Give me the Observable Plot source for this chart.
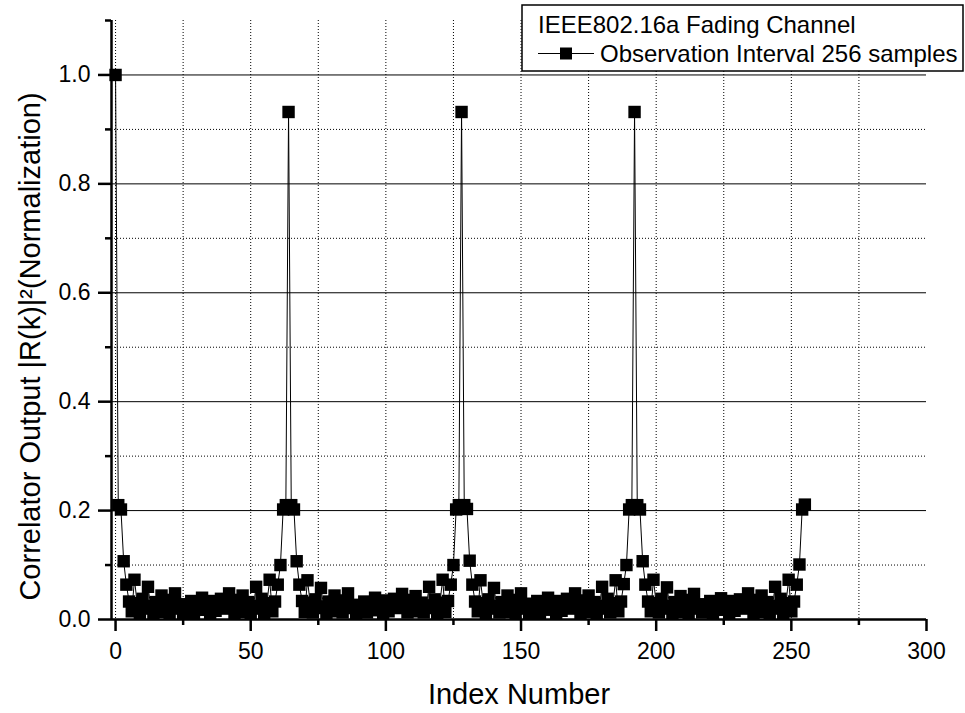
<!DOCTYPE html>
<html><head><meta charset="utf-8">
<script src="https://cdn.jsdelivr.net/npm/d3@7"></script>
<script src="https://cdn.jsdelivr.net/npm/@observablehq/plot@0.6"></script>
<style>body{margin:0;background:#fff;} #chart{width:965px;height:713px;}</style>
</head><body><div id="chart"></div>
<script>
// Correlator output |R(k)|^2 (normalized), index 0..255
const row0 = [1.000, 0.210, 0.202, 0.107, 0.064, 0.033, 0.015, 0.073,
              0.030, 0.012, 0.038, 0.020, 0.060, 0.025, 0.012, 0.032,
              0.018, 0.044, 0.014, 0.030, 0.012, 0.036, 0.048, 0.020,
              0.028, 0.012, 0.024, 0.016, 0.034, 0.012, 0.026, 0.018,
              0.040, 0.018, 0.026, 0.012, 0.034, 0.016, 0.024, 0.038,
              0.028, 0.020, 0.048, 0.036, 0.012, 0.030, 0.014, 0.044,
              0.018, 0.032, 0.012, 0.025, 0.060, 0.020, 0.038, 0.012,
              0.030, 0.073, 0.015, 0.033, 0.064, 0.100, 0.202, 0.210];
const row1 = [0.932, 0.210, 0.202, 0.107, 0.064, 0.034, 0.014, 0.072,
              0.031, 0.013, 0.037, 0.021, 0.058, 0.024, 0.012, 0.033,
              0.017, 0.044, 0.015, 0.029, 0.013, 0.035, 0.048, 0.021,
              0.027, 0.012, 0.025, 0.016, 0.033, 0.013, 0.027, 0.017,
              0.040, 0.019, 0.025, 0.012, 0.035, 0.015, 0.024, 0.038,
              0.027, 0.021, 0.047, 0.036, 0.013, 0.029, 0.015, 0.043,
              0.018, 0.031, 0.013, 0.026, 0.060, 0.021, 0.037, 0.012,
              0.031, 0.073, 0.014, 0.034, 0.064, 0.100, 0.202, 0.210];
const row2 = [0.932, 0.210, 0.203, 0.108, 0.064, 0.033, 0.015, 0.072,
              0.030, 0.012, 0.037, 0.020, 0.058, 0.025, 0.013, 0.032,
              0.018, 0.044, 0.014, 0.031, 0.012, 0.036, 0.048, 0.020,
              0.029, 0.012, 0.024, 0.017, 0.034, 0.012, 0.026, 0.019,
              0.040, 0.018, 0.027, 0.012, 0.034, 0.016, 0.025, 0.038,
              0.028, 0.020, 0.048, 0.035, 0.012, 0.030, 0.014, 0.044,
              0.019, 0.032, 0.012, 0.025, 0.060, 0.020, 0.038, 0.013,
              0.030, 0.072, 0.015, 0.033, 0.065, 0.100, 0.202, 0.210];
const row3 = [0.932, 0.210, 0.202, 0.107, 0.064, 0.033, 0.015, 0.073,
              0.030, 0.013, 0.038, 0.020, 0.059, 0.025, 0.012, 0.032,
              0.018, 0.043, 0.014, 0.030, 0.012, 0.036, 0.047, 0.020,
              0.028, 0.013, 0.024, 0.016, 0.034, 0.012, 0.026, 0.018,
              0.039, 0.018, 0.026, 0.012, 0.034, 0.016, 0.024, 0.037,
              0.028, 0.020, 0.048, 0.036, 0.012, 0.030, 0.014, 0.044,
              0.018, 0.032, 0.012, 0.025, 0.060, 0.020, 0.038, 0.012,
              0.030, 0.073, 0.015, 0.033, 0.064, 0.101, 0.202, 0.211];
const values = [...row0, ...row1, ...row2, ...row3];
const data = values.map((v, i) => ({k: i, r: v}));

const xMajorTicks = [0, 50, 100, 150, 200, 250, 300];
const xMinorTicks = [25, 75, 125, 175, 225, 275];
const xGridLines = [0, 25, 50, 75, 100, 125, 150, 175, 200, 225, 250, 275];
const yMajorTicks = [0.0, 0.2, 0.4, 0.6, 0.8, 1.0];
const yMinorTicks = [0.1, 0.3, 0.5, 0.7, 0.9, 1.1];
const yMajorGrid = [0.2, 0.4, 0.6, 0.8, 1.0];
const yMinorGrid = [0.1, 0.3, 0.5, 0.7, 0.9];
const xTitle = "Index Number";
const yTitle = "Correlator Output |R(k)|²(Normalization)";
const legendTitle = "IEEE802.16a Fading Channel";
const seriesName = "Observation Interval 256 samples";
const font = "'Liberation Sans', Arial, Helvetica, sans-serif";

const plot = Plot.plot({
  width: 965, height: 713,
  marginLeft: 111, marginRight: 39, marginTop: 20, marginBottom: 94,
  x: {domain: [-1.5, 300]},
  y: {domain: [0, 1.1]},
  style: {fontFamily: font, background: "#fff", color: "#000"},
  marks: [
    Plot.ruleX(xGridLines, {stroke: "#000", strokeDasharray: "1,2", strokeWidth: 1}),
    Plot.ruleY(yMinorGrid, {stroke: "#000", strokeDasharray: "1,2", strokeWidth: 1}),
    Plot.ruleY(yMajorGrid, {stroke: "#000", strokeWidth: 1}),
    Plot.line(data, {x: "k", y: "r", stroke: "#000", strokeWidth: 1}),
    Plot.dot(data, {x: "k", y: "r", symbol: "square", r: 7, fill: "#000", stroke: "none"}),
    Plot.axisX(xMajorTicks, {tickSize: 12, tickPadding: 11, strokeWidth: 2.5, fontSize: 23, label: null}),
    Plot.axisX(xMinorTicks, {tickSize: 6, tickFormat: () => "", strokeWidth: 2.5, label: null}),
    Plot.axisY(yMajorTicks, {tickSize: 13, tickPadding: 8, strokeWidth: 2.5, fontSize: 23, tickFormat: d3.format(".1f"), label: null}),
    Plot.axisY(yMinorTicks, {tickSize: 6, tickFormat: () => "", strokeWidth: 2.5, label: null}),
    Plot.ruleY([0], {stroke: "#000", strokeWidth: 2.5}),
    Plot.ruleX([-1.5], {stroke: "#000", strokeWidth: 2.5}),
    Plot.text([xTitle], {frameAnchor: "bottom", dy: 75.5, fontSize: 29, lineAnchor: "middle", textAnchor: "middle"}),
    Plot.text([yTitle], {frameAnchor: "left", rotate: -90, dx: -81, dy: 26.5, fontSize: 29, lineAnchor: "middle", textAnchor: "middle"})
  ]
});

// Legend box (top right)
const svg = d3.select(plot);
const g = svg.append("g").attr("font-family", font).attr("fill", "#000").attr("text-anchor", "start");
g.append("rect").attr("x", 522).attr("y", 5).attr("width", 441).attr("height", 66)
  .attr("fill", "#fff").attr("stroke", "#000").attr("stroke-width", 1.5);
g.append("text").attr("x", 538).attr("y", 33).attr("font-size", 24).attr("text-anchor", "start").text(legendTitle);
g.append("line").attr("x1", 538).attr("x2", 594).attr("y1", 53.5).attr("y2", 53.5)
  .attr("stroke", "#000").attr("stroke-width", 1);
g.append("rect").attr("x", 560).attr("y", 47.5).attr("width", 12).attr("height", 12).attr("fill", "#000");
g.append("text").attr("x", 600).attr("y", 62).attr("font-size", 24).attr("text-anchor", "start").text(seriesName);

document.getElementById("chart").appendChild(plot);
</script>
</body></html>
